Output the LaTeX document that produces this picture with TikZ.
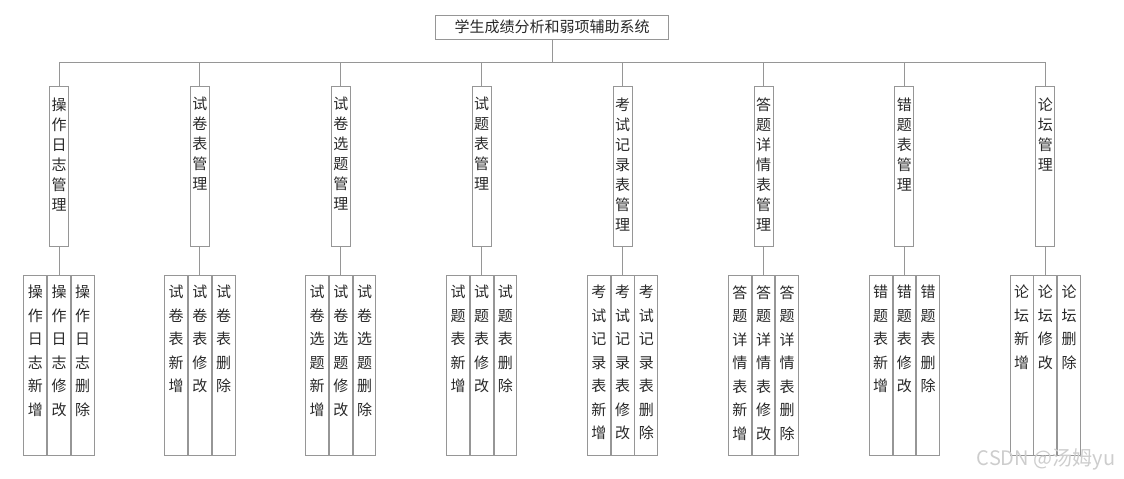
\documentclass[tikz,border=0pt]{standalone}
\usepackage{fontspec}
\usepackage{tikz}
\usetikzlibrary{positioning}
\newfontfamily\cjk{Noto Sans CJK SC}
\definecolor{linegray}{RGB}{150,150,150}
\definecolor{textdark}{RGB}{40,40,40}
\definecolor{markgray}{RGB}{205,205,205}

\begin{document}
\begin{tikzpicture}[
        x=1pt, y=-1pt,
        rootbox/.style={rectangle, draw=linegray, line width=0.9pt, minimum width=233pt, minimum height=24pt, inner sep=0pt, text=textdark, font=\cjk\fontsize{15pt}{18pt}\selectfont},
        midbox/.style={rectangle, draw=linegray, line width=0.9pt, inner sep=0pt, anchor=north, text=textdark, font=\cjk\fontsize{15pt}{20pt}\selectfont,
            execute at begin node={\begin{minipage}[t][160pt][t]{19pt}\centering\vspace*{11pt}},
            execute at end node={\end{minipage}}},
        leafbox/.style={rectangle, draw=linegray, line width=0.9pt, inner sep=0pt, anchor=north, text=textdark, font=\cjk\fontsize{15pt}{23.5pt}\selectfont,
            execute at begin node={\begin{minipage}[t][180pt][t]{22.8pt}\centering\vspace*{10pt}},
            execute at end node={\end{minipage}}},
        link/.style={draw=linegray, line width=0.9pt},
        watermark/.style={text=markgray, font=\cjk\fontsize{20pt}{22pt}\selectfont},
    ]
    \useasboundingbox (0,0) rectangle (1124,479);

    % Sistema
    \node[rootbox] (root) at (552,27) {学生成绩分析和弱项辅助系统};

    % Modulos
    \node[midbox] (mlog) at (59,86) {操\\作\\日\\志\\管\\理};
    \node[midbox, right=121pt of mlog] (mpaper) {试\\卷\\表\\管\\理};
    \node[midbox, right=121pt of mpaper] (mpick) {试\\卷\\选\\题\\管\\理};
    \node[midbox, right=121pt of mpick] (mquest) {试\\题\\表\\管\\理};
    \node[midbox, right=121pt of mquest] (mexam) {考\\试\\记\\录\\表\\管\\理};
    \node[midbox, right=121pt of mexam] (manswer) {答\\题\\详\\情\\表\\管\\理};
    \node[midbox, right=121pt of manswer] (mwrong) {错\\题\\表\\管\\理};
    \node[midbox, right=121pt of mwrong] (mforum) {论\\坛\\管\\理};

    % Operaciones
    \node[leafbox, below=28pt of mlog] (logedit) {操\\作\\日\\志\\修\\改};
    \node[leafbox, left=0pt of logedit] (logadd) {操\\作\\日\\志\\新\\增};
    \node[leafbox, right=0pt of logedit] (logdel) {操\\作\\日\\志\\删\\除};

    \node[leafbox, below=28pt of mpaper] (paperedit) {试\\卷\\表\\修\\改};
    \node[leafbox, left=0pt of paperedit] (paperadd) {试\\卷\\表\\新\\增};
    \node[leafbox, right=0pt of paperedit] (paperdel) {试\\卷\\表\\删\\除};

    \node[leafbox, below=28pt of mpick] (pickedit) {试\\卷\\选\\题\\修\\改};
    \node[leafbox, left=0pt of pickedit] (pickadd) {试\\卷\\选\\题\\新\\增};
    \node[leafbox, right=0pt of pickedit] (pickdel) {试\\卷\\选\\题\\删\\除};

    \node[leafbox, below=28pt of mquest] (questedit) {试\\题\\表\\修\\改};
    \node[leafbox, left=0pt of questedit] (questadd) {试\\题\\表\\新\\增};
    \node[leafbox, right=0pt of questedit] (questdel) {试\\题\\表\\删\\除};

    \node[leafbox, below=28pt of mexam] (examedit) {考\\试\\记\\录\\表\\修\\改};
    \node[leafbox, left=0pt of examedit] (examadd) {考\\试\\记\\录\\表\\新\\增};
    \node[leafbox, right=0pt of examedit] (examdel) {考\\试\\记\\录\\表\\删\\除};

    \node[leafbox, below=28pt of manswer] (answeredit) {答\\题\\详\\情\\表\\修\\改};
    \node[leafbox, left=0pt of answeredit] (answeradd) {答\\题\\详\\情\\表\\新\\增};
    \node[leafbox, right=0pt of answeredit] (answerdel) {答\\题\\详\\情\\表\\删\\除};

    \node[leafbox, below=28pt of mwrong] (wrongedit) {错\\题\\表\\修\\改};
    \node[leafbox, left=0pt of wrongedit] (wrongadd) {错\\题\\表\\新\\增};
    \node[leafbox, right=0pt of wrongedit] (wrongdel) {错\\题\\表\\删\\除};

    \node[leafbox, below=28pt of mforum] (forumedit) {论\\坛\\修\\改};
    \node[leafbox, left=0pt of forumedit] (forumadd) {论\\坛\\新\\增};
    \node[leafbox, right=0pt of forumedit] (forumdel) {论\\坛\\删\\除};

    % Marca de agua
    \node[watermark] (mark) at (1046,459) {CSDN @汤姆yu};

    % Conexiones
    \coordinate (bus) at (0,62);
    \draw[link] (root.south) -- (root.south |- bus);
    \draw[link] (mlog.north |- bus) -- (mforum.north |- bus);
    \draw[link] (mlog.north) -- (mlog.north |- bus);
    \draw[link] (mpaper.north) -- (mpaper.north |- bus);
    \draw[link] (mpick.north) -- (mpick.north |- bus);
    \draw[link] (mquest.north) -- (mquest.north |- bus);
    \draw[link] (mexam.north) -- (mexam.north |- bus);
    \draw[link] (manswer.north) -- (manswer.north |- bus);
    \draw[link] (mwrong.north) -- (mwrong.north |- bus);
    \draw[link] (mforum.north) -- (mforum.north |- bus);
    \draw[link] (mlog.south) -- (logedit.north);
    \draw[link] (mpaper.south) -- (paperedit.north);
    \draw[link] (mpick.south) -- (pickedit.north);
    \draw[link] (mquest.south) -- (questedit.north);
    \draw[link] (mexam.south) -- (examedit.north);
    \draw[link] (manswer.south) -- (answeredit.north);
    \draw[link] (mwrong.south) -- (wrongedit.north);
    \draw[link] (mforum.south) -- (forumedit.north);

\end{tikzpicture}
\end{document}
